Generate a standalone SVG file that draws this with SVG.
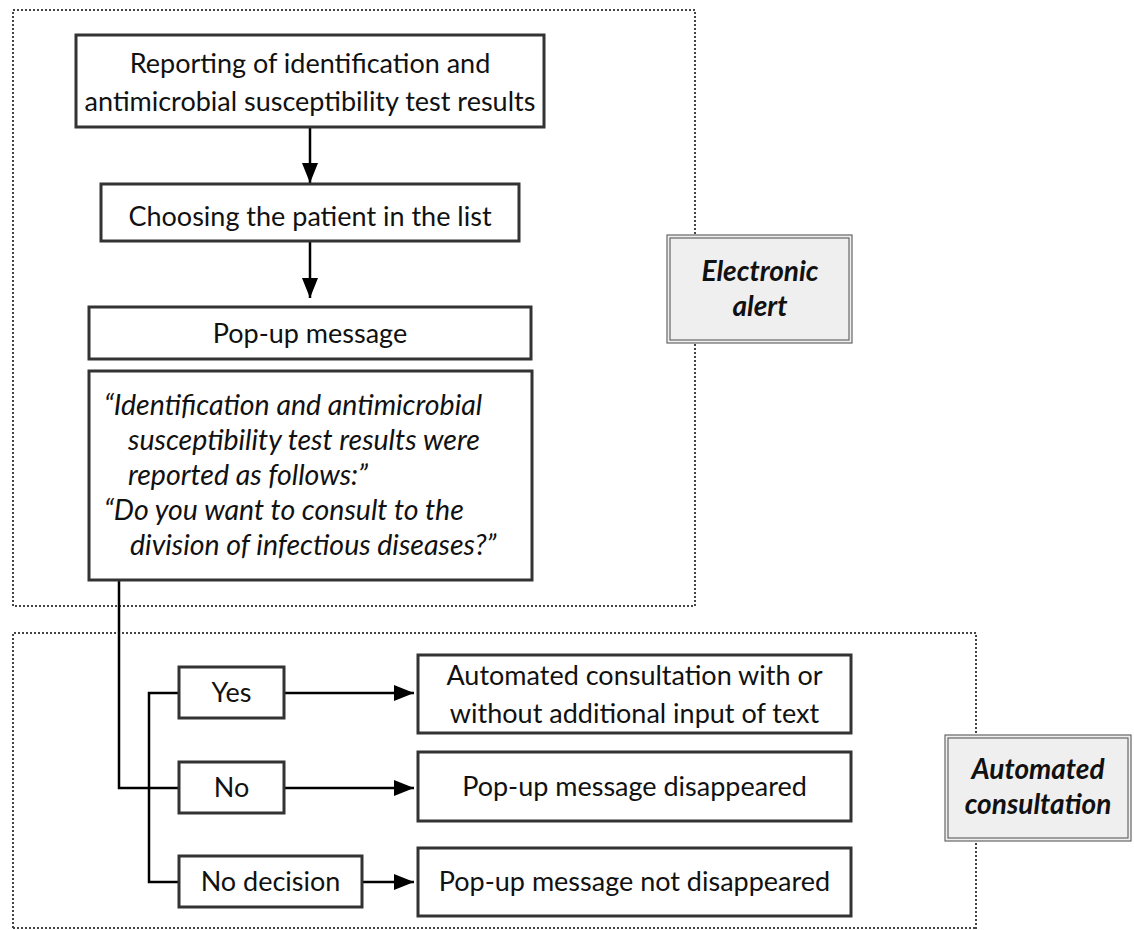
<svg xmlns="http://www.w3.org/2000/svg" width="1134" height="930" viewBox="0 0 1134 930">
<defs>
<style>
.box{fill:#fff;stroke:#333;stroke-width:3}
.zone{fill:none;stroke:#444;stroke-width:2;stroke-dasharray:2 2}
.t{font-family:Lato,"Liberation Sans",sans-serif;font-size:27px;fill:#111;text-anchor:middle}
.it{font-family:Lato,"Liberation Sans",sans-serif;font-size:28.5px;fill:#111;font-style:italic}
.lab{font-family:Lato,"Liberation Sans",sans-serif;font-size:28px;fill:#111;font-style:italic;font-weight:bold;text-anchor:middle}
.outer{fill:#efefef;stroke:#666;stroke-width:1.2}
.inner{fill:none;stroke:#666;stroke-width:1.2}
.c{fill:none;stroke:#000;stroke-width:2.5}
</style>
<marker id="a" viewBox="0 0 20 20" refX="20" refY="10" markerWidth="20" markerHeight="20" markerUnits="userSpaceOnUse" orient="auto">
<path d="M0,2 L20,10 L0,18 z" fill="#000"/>
</marker>
</defs>
<rect width="1134" height="930" fill="#fff"/>
<g id="zones">
<rect class="zone" x="13" y="10" width="682" height="596"/>
<path class="zone" d="M13,932 L13,633 L976,633 L976,932"/>
<path class="zone" d="M13,928 L976,928"/>
</g>
<g id="connectors">
<path class="c" d="M310,127 L310,183" marker-end="url(#a)"/>
<path class="c" d="M310,241 L310,298" marker-end="url(#a)"/>
<path class="c" d="M119,580 L119,788 L179,788"/>
<path class="c" d="M179,693 L149,693 L149,882 L179,882"/>
<path class="c" d="M284,693 L414,693" marker-end="url(#a)"/>
<path class="c" d="M284,788 L414,788" marker-end="url(#a)"/>
<path class="c" d="M362,882 L414,882" marker-end="url(#a)"/>
</g>
<g id="n1">
<rect class="box" x="76" y="35" width="468" height="92"/>
<text class="t" x="310" y="73">Reporting of identification and</text>
<text class="t" x="310" y="111">antimicrobial susceptibility test results</text>
</g>
<g id="n2">
<rect class="box" x="101" y="184" width="418" height="57"/>
<text class="t" x="310" y="226">Choosing the patient in the list</text>
</g>
<g id="n3">
<rect class="box" x="89" y="307" width="442" height="52"/>
<text class="t" x="310" y="343">Pop-up message</text>
</g>
<g id="n4">
<rect class="box" x="89" y="371" width="443" height="209"/>
<text class="it" x="104" y="415">“Identification and antimicrobial</text>
<text class="it" x="128" y="450">susceptibility test results were</text>
<text class="it" x="128" y="485">reported as follows:”</text>
<text class="it" x="104" y="520">“Do you want to consult to the</text>
<text class="it" x="130" y="555">division of infectious diseases?”</text>
</g>
<g id="electronic-alert">
<rect class="outer" x="667" y="235" width="185" height="108"/>
<rect class="inner" x="670" y="238" width="179" height="102"/>
<text class="lab" x="760" y="281">Electronic</text>
<text class="lab" x="760" y="316">alert</text>
</g>
<g id="yes">
<rect class="box" x="179" y="667" width="105" height="51"/>
<text class="t" x="231.5" y="702">Yes</text>
</g>
<g id="no">
<rect class="box" x="179" y="762" width="105" height="51"/>
<text class="t" x="231.5" y="797">No</text>
</g>
<g id="no-decision">
<rect class="box" x="179" y="856" width="183" height="51"/>
<text class="t" x="270.5" y="891">No decision</text>
</g>
<g id="r1">
<rect class="box" x="418" y="655" width="433" height="78"/>
<text class="t" x="634.5" y="685">Automated consultation with or</text>
<text class="t" x="634.5" y="723">without additional input of text</text>
</g>
<g id="r2">
<rect class="box" x="418" y="752" width="433" height="69"/>
<text class="t" x="634.5" y="796">Pop-up message disappeared</text>
</g>
<g id="r3">
<rect class="box" x="418" y="848" width="433" height="68"/>
<text class="t" x="634.5" y="891">Pop-up message not disappeared</text>
</g>
<g id="automated-consultation">
<rect class="outer" x="945" y="735" width="186" height="106"/>
<rect class="inner" x="948" y="738" width="180" height="100"/>
<text class="lab" x="1038" y="779">Automated</text>
<text class="lab" x="1038" y="814">consultation</text>
</g>
</svg>
